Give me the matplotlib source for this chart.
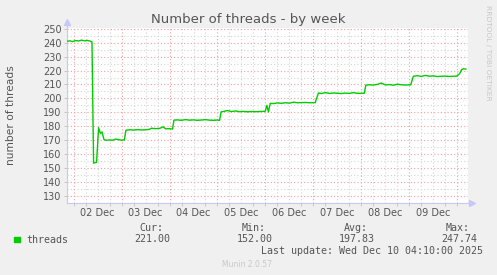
import matplotlib
matplotlib.use("Agg")
import matplotlib.pyplot as plt
import numpy as np

# hours since 02 Dec 00:00 and thread counts
HOURS = [-3.3, -2.0, -0.5, 1.0, 2.5, 4.0, 5.5, 7.0, 8.5, 9.2,
         10.0, 11.5, 12.5, 13.4, 14.2, 15.2, 16.5, 18.0, 19.5, 21.0,
         22.5, 24.0, 25.4, 26.2, 28.0, 30.0, 32.0, 34.0, 36.0, 37.9,
         39.0, 41.0, 43.0, 44.9, 46.0, 48.0, 49.5, 50.2, 52.0, 54.0,
         56.0, 58.0, 60.0, 62.0, 64.0, 66.0, 68.0, 70.0, 72.0, 73.0,
         73.8, 75.5, 77.0, 79.0, 81.0, 83.0, 85.0, 87.0, 89.0, 91.0,
         93.0, 95.0, 95.9, 96.7, 97.5, 98.4, 100.0, 102.0, 104.0, 106.0,
         108.0, 110.0, 112.0, 114.0, 116.0, 118.0, 120.9, 122.5, 124.0, 126.0,
         128.0, 130.0, 132.0, 134.0, 136.0, 138.0, 140.0, 142.0, 144.0, 145.5,
         146.2, 148.0, 150.0, 152.0, 154.0, 156.0, 158.0, 160.0, 162.0, 164.0,
         166.0, 168.7, 170.0, 172.0, 174.0, 176.0, 178.0, 180.0, 182.0, 184.0,
         186.0, 188.0, 190.0, 191.7, 193.2, 194.2, 195.2, 196.3]
THREADS = [241.0, 241.3, 240.8, 241.5, 241.2, 241.8, 241.3, 241.6, 241.0, 240.5,
           153.6, 154.2, 179.0, 175.0, 176.0, 170.5, 170.0, 170.2, 170.0, 170.8,
           170.5, 170.0, 170.3, 177.2, 177.5, 177.3, 177.6, 177.4, 177.5, 177.8,
           178.6, 178.3, 178.5, 179.6, 178.2, 178.3, 178.0, 184.4, 184.6, 184.3,
           184.8, 184.4, 184.6, 184.3, 184.5, 184.8, 184.4, 184.3, 184.5, 184.2,
           190.3, 190.8, 191.3, 190.6, 191.0, 190.5, 190.7, 190.4, 190.6, 190.5,
           190.6, 190.7, 190.8, 195.0, 190.3, 196.5, 196.3, 196.8, 196.5, 196.9,
           196.6, 197.3, 196.9, 197.0, 197.1, 196.9, 197.0, 203.9, 203.5, 204.2,
           203.6, 203.9, 203.7, 203.5, 203.8, 203.6, 204.1, 203.7, 203.6, 203.8,
           209.5, 209.8, 209.6, 210.1, 211.0, 209.7, 209.9, 209.5, 210.2, 209.8,
           209.6, 209.8, 215.9, 216.3, 215.8, 216.5, 215.9, 216.2, 215.7, 215.9,
           216.0, 215.8, 215.9, 216.0, 217.8, 220.8, 221.3, 221.0]

DAY_LABELS = ["02 Dec", "03 Dec", "04 Dec", "05 Dec",
              "06 Dec", "07 Dec", "08 Dec", "09 Dec"]
STATS = [("Cur:", "221.00"), ("Min:", "152.00"),
         ("Avg:", "197.83"), ("Max:", "247.74")]

BG = "#F0F0F0"
TXT = "#555555"
GREEN = "#00CC00"
AXIS = "#C8C8F8"

W, H = 497, 275
fig = plt.figure(figsize=(W / 100, H / 100), dpi=100, facecolor=BG)
ax = fig.add_axes([67 / W, 1 - 202.7 / H, (468.3 - 67) / W, (202.7 - 28.3) / H])
ax.set_facecolor("white")

x0, x1 = -3.3, 197.5
y0, y1 = 125.2, 250.3
ax.set_xlim(x0, x1)
ax.set_ylim(y0, y1)

# grid: grey minor, red major
for h in np.arange(-0, x1, 6):
    if h % 24:
        ax.axvline(h, color="#D4D4D4", lw=0.8, ls=(0, (1, 2)), zorder=1)
for v in np.arange(135, 250, 10):
    ax.axhline(v, color="#D4D4D4", lw=0.8, ls=(0, (1, 2)), zorder=1)
for h in np.arange(0, x1, 24):
    ax.axvline(h, color="#F0A0A0", lw=0.8, ls=(0, (1, 2)), zorder=1.5)
for v in np.arange(130, 251, 10):
    ax.axhline(v, color="#F0A0A0", lw=0.8, ls=(0, (1, 2)), zorder=1.5)

ax.plot(HOURS, THREADS, color=GREEN, lw=1.0, zorder=3)

for s in ("top", "right"):
    ax.spines[s].set_visible(False)
for s in ("left", "bottom"):
    ax.spines[s].set_color(AXIS)
    ax.spines[s].set_linewidth(0.8)

# axis arrows
ax.plot([0, 0], [1, 1.035], color=AXIS, lw=0.8, transform=ax.transAxes, clip_on=False)
ax.plot([0], [1.035], marker="^", ms=4, color=AXIS, transform=ax.transAxes, clip_on=False)
ax.plot([1, 1.01], [0, 0], color=AXIS, lw=0.8, transform=ax.transAxes, clip_on=False)
ax.plot([1.01], [0], marker=">", ms=4, color=AXIS, transform=ax.transAxes, clip_on=False)

ax.set_yticks(np.arange(130, 251, 10))
ax.tick_params(axis="y", length=2, width=0.6, color="#C0C0C0", labelsize=7,
               labelcolor=TXT, pad=2)
ax.set_xticks([12 + 24 * i for i in range(len(DAY_LABELS))])
ax.set_xticklabels(DAY_LABELS)
ax.tick_params(axis="x", length=0, labelsize=7, labelcolor=TXT, pad=4)
ax.set_xticks(np.arange(0, x1, 6), minor=True)
ax.tick_params(axis="x", which="minor", length=2, width=0.6, color="#C0C0C0")

ax.set_ylabel("number of threads", fontsize=7.7, color=TXT)
ax.yaxis.set_label_coords(-0.128, 0.5)
fig.text(0.5, 1 - 19 / H, "Number of threads - by week", ha="center", va="center",
         fontsize=9.5, color=TXT)
fig.text(487.7 / W, 1 - 5 / H, "RRDTOOL / TOBI OETIKER", rotation=-90,
         ha="center", va="top", fontsize=5.4, color="#C8C8C8")

# legend block
mono = "DejaVu Sans Mono"
fig.patches.append(plt.Rectangle((14 / W, 1 - 242.3 / H), 6 / W, 5.6 / H,
                                 transform=fig.transFigure, color=GREEN))
fig.text(26.7 / W, 1 - 240 / H, "threads", family=mono, fontsize=7.2,
         color=TXT, va="center", ha="left")
label_right = [163, 266, 368.3, 470]
value_right = [170, 272.3, 375, 477.3]
for (lab, val), lr, vr in zip(STATS, label_right, value_right):
    fig.text(lr / W, 1 - 227.7 / H, lab, family=mono, fontsize=7.2,
             color=TXT, va="center", ha="right")
    fig.text(vr / W, 1 - 239.5 / H, val, family=mono, fontsize=7.2,
             color=TXT, va="center", ha="right")
fig.text(482.7 / W, 1 - 251 / H, "Last update: Wed Dec 10 04:10:00 2025",
         family=mono, fontsize=7.2, color=TXT, va="center", ha="right")
fig.text(247.5 / W, 1 - 264.3 / H, "Munin 2.0.57", fontsize=5.5,
         color="#C8C8C8", va="center", ha="center")

fig.savefig("out.png", dpi=100, facecolor=BG)
